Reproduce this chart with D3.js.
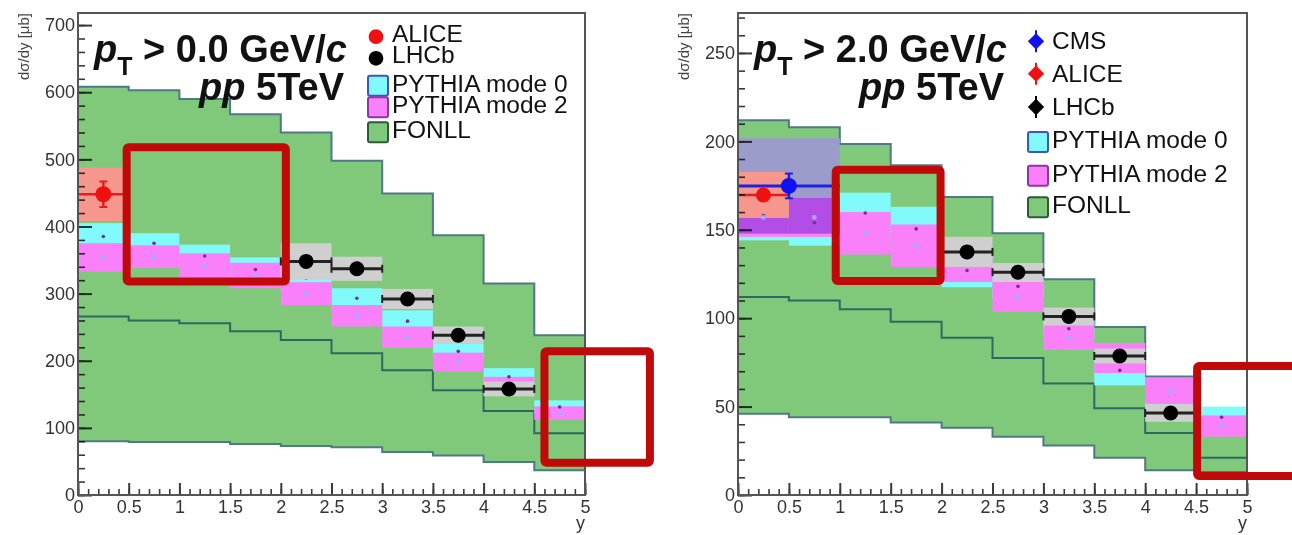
<!DOCTYPE html>
<html>
<head>
<meta charset="utf-8">
<script src="https://cdn.jsdelivr.net/npm/d3@7"></script>
<style>
  body { margin: 0; background: #fff; }
  text { font-family: "Liberation Sans", Arial, Helvetica, sans-serif; white-space: pre; }
</style>
</head>
<body>
<div id="container"></div>
<script>
// rapidity bins (lower edges), width 0.5
const binLo = [0, 0.5, 1, 1.5, 2, 2.5, 3, 3.5, 4, 4.5];
const binW = 0.5;
const xTickLabels = ['0', '0.5', '1', '1.5', '2', '2.5', '3', '3.5', '4', '4.5', '5'];

// ---- pT > 0.0 GeV/c ----
const fonllHiA = [608, 603, 590, 567, 540, 498, 449, 387, 315, 238];
const fonllMidA = [266, 260, 256, 244, 231, 211, 186, 156, 125, 92];
const fonllLoA = [80, 79, 79, 76, 73, 71, 64, 59, 49, 37];
const py0MidA = [385, 375, 356, 336, 323, 293, 259, 214, 176, 131];
const py0ErrA = [20, 15, 17, 18, 18, 15, 16, 11, 13, 10];
const py2MidA = [354, 355, 342, 327, 300, 267, 235, 198, 163, 122];
const py2ErrA = [21, 17, 18, 19, 17, 16, 16, 14, 13, 10];
const lhcbBinA = [2, 2.5, 3, 3.5, 4];
const lhcbValA = [348, 337, 292, 238, 158];
const lhcbSystA = [27, 18, 15, 13, 11];
const aliceBinA = [0];
const aliceValA = [448];
const aliceStatA = [19];
const aliceSystA = [40];
const legendA = ['ALICE', 'LHCb', 'PYTHIA mode 0', 'PYTHIA mode 2', 'FONLL'];
const notesA = [
  { x0: 0.48, x1: 2.05, y0: 318, y1: 518 },
  { x0: 4.6, x1: 5.64, y0: 48, y1: 214 }
];

// ---- pT > 2.0 GeV/c ----
const fonllHiB = [212, 208, 198.5, 186.5, 168.5, 148, 122, 95, 67, 42];
const fonllMidB = [112, 110, 105, 98, 89, 77.5, 63, 49, 35, 21];
const fonllLoB = [46, 44, 44, 41, 38, 33, 28, 21, 14, 13];
const py0MidB = [158, 154, 159.5, 150.5, 127, 118, 94, 70.5, 47.5, 44];
const py0ErrB = [14, 13, 11.5, 12.5, 9.5, 7, 6, 8.5, 5, 6];
const py2MidB = [157, 157, 148, 141, 130, 112, 89, 77.5, 59, 39];
const py2ErrB = [11, 11, 12, 12, 9.5, 8.5, 7, 8.5, 7.5, 6];
const lhcbBinB = [2, 2.5, 3, 3.5, 4];
const lhcbValB = [137.5, 126, 101, 78.6, 46.4];
const lhcbSystB = [8.5, 5.2, 5, 4.2, 5];
const aliceBinB = [0];
const aliceValB = [169.7];
const aliceStatB = [3];
const aliceSystB = [13];
const cmsLoB = [0];
const cmsHiB = [1];
const cmsValB = [174.8];
const cmsStatB = [7];
const cmsSystB = [27];
const legendB = ['CMS', 'ALICE', 'LHCb', 'PYTHIA mode 0', 'PYTHIA mode 2', 'FONLL'];
const notesB = [
  { x0: 0.96, x1: 1.99, y0: 121, y1: 184 },
  { x0: 4.51, x1: 5.6, y0: 10.7, y1: 73 }
];

const C = {
  green: '#80c87a', fonllEdge: '#4f7888', fonllMid: '#2f6862',
  cyan: '#80fafa', magenta: '#fa80fa', gray: '#cfcfcf', salmon: '#f5978d',
  lavender: '#9c9ccc', purple: '#b24ee6',
  red: '#f01010', blue: '#1010f0', note: '#c00a0a'
};

const svg = d3.select('#container').append('svg')
  .attr('width', 1292).attr('height', 535)
  .style('background', '#fff');

const panels = [
  { left: 78, right: 585, yMax: 718, yStep: 100, cut: '0.0',
    fHi: fonllHiA, fMid: fonllMidA, fLo: fonllLoA,
    p0: py0MidA, p0e: py0ErrA, p2: py2MidA, p2e: py2ErrA,
    lBin: lhcbBinA, lVal: lhcbValA, lSys: lhcbSystA,
    aBin: aliceBinA, aVal: aliceValA, aStat: aliceStatA, aSys: aliceSystA,
    cLo: [], cHi: [], cVal: [], cStat: [], cSys: [],
    legend: legendA, legendBase: [41.7, 63.3, 91.7, 113.3, 138.3], notes: notesA, round: true },
  { left: 738, right: 1247, yMax: 272.6, yStep: 50, cut: '2.0',
    fHi: fonllHiB, fMid: fonllMidB, fLo: fonllLoB,
    p0: py0MidB, p0e: py0ErrB, p2: py2MidB, p2e: py2ErrB,
    lBin: lhcbBinB, lVal: lhcbValB, lSys: lhcbSystB,
    aBin: aliceBinB, aVal: aliceValB, aStat: aliceStatB, aSys: aliceSystB,
    cLo: cmsLoB, cHi: cmsHiB, cVal: cmsValB, cStat: cmsStatB, cSys: cmsSystB,
    legend: legendB, legendBase: [49.3, 81.7, 115, 148, 181.7, 213.3], notes: notesB, round: false }
];

panels.forEach(p => {
  const x = d3.scaleLinear().domain([0, 5]).range([p.left, p.right]);
  const y = d3.scaleLinear().domain([0, p.yMax]).range([495, 13]);
  const g = svg.append('g');

  const band = (sel, cls, mid, err, fill) => sel.selectAll('.' + cls).data(binLo).join('rect')
    .attr('class', cls)
    .attr('x', d => x(d)).attr('width', d => x(d + binW) - x(d))
    .attr('y', (d, i) => y(mid[i] + err[i]))
    .attr('height', (d, i) => y(mid[i] - err[i]) - y(mid[i] + err[i]))
    .attr('fill', fill);

  // FONLL band
  const steps = binLo.map((lo, i) => ({ x: lo, hi: p.fHi[i], mid: p.fMid[i], lo: p.fLo[i] }));
  steps.push(Object.assign({}, steps[steps.length - 1], { x: 5 }));
  g.append('path').datum(steps)
    .attr('d', d3.area().curve(d3.curveStepAfter).x(d => x(d.x)).y0(d => y(d.lo)).y1(d => y(d.hi)))
    .attr('fill', C.green);
  ['hi', 'lo', 'mid'].forEach(k => {
    g.append('path').datum(steps)
      .attr('d', d3.line().curve(d3.curveStepAfter).x(d => x(d.x)).y(d => y(d[k])))
      .attr('fill', 'none')
      .attr('stroke', k === 'mid' ? C.fonllMid : C.fonllEdge)
      .attr('stroke-width', 2);
  });

  // CMS systematic box (under the PYTHIA bands)
  p.cVal.forEach((v, i) => {
    g.append('rect')
      .attr('x', x(p.cLo[i])).attr('width', x(p.cHi[i]) - x(p.cLo[i]))
      .attr('y', y(v + p.cSys[i])).attr('height', y(v - p.cSys[i]) - y(v + p.cSys[i]))
      .attr('fill', C.lavender);
  });

  band(g, 'py0', p.p0, p.p0e, C.cyan);
  band(g, 'py2', p.p2, p.p2e, C.magenta);

  // overlap of CMS box with PYTHIA mode 2
  p.cVal.forEach((v, i) => {
    binLo.forEach((lo, j) => {
      const xa = Math.max(lo, p.cLo[i]), xb = Math.min(lo + binW, p.cHi[i]);
      const top = Math.min(v + p.cSys[i], p.p2[j] + p.p2e[j]);
      const bot = Math.max(v - p.cSys[i], p.p2[j] - p.p2e[j]);
      if (xb > xa && top > bot) {
        g.append('rect').attr('x', x(xa)).attr('width', x(xb) - x(xa))
          .attr('y', y(top)).attr('height', y(bot) - y(top)).attr('fill', C.purple);
      }
    });
  });

  // ALICE systematic box
  p.aVal.forEach((v, i) => {
    g.append('rect')
      .attr('x', x(p.aBin[i])).attr('width', x(p.aBin[i] + binW) - x(p.aBin[i]))
      .attr('y', y(v + p.aSys[i])).attr('height', y(v - p.aSys[i]) - y(v + p.aSys[i]))
      .attr('fill', C.salmon);
  });

  // PYTHIA central values
  g.selectAll('.p0dot').data(binLo).join('circle')
    .attr('cx', d => x(d + binW / 2)).attr('cy', (d, i) => y(p.p0[i]))
    .attr('r', 1.8).attr('fill', '#7a2a9a');
  g.selectAll('.p2dot').data(binLo).join('circle')
    .attr('cx', d => x(d + binW / 2)).attr('cy', (d, i) => y(p.p2[i]))
    .attr('r', 2.4).attr('fill', '#a8a8ff');

  // LHCb systematic boxes
  g.selectAll('.lbox').data(p.lVal).join('rect')
    .attr('x', (d, i) => x(p.lBin[i])).attr('width', (d, i) => x(p.lBin[i] + binW) - x(p.lBin[i]))
    .attr('y', (d, i) => y(d + p.lSys[i])).attr('height', (d, i) => y(d - p.lSys[i]) - y(d + p.lSys[i]))
    .attr('fill', C.gray);

  // LHCb points
  p.lVal.forEach((v, i) => {
    const x0 = x(p.lBin[i]), x1 = x(p.lBin[i] + binW), yy = y(v);
    g.append('line').attr('x1', x0).attr('x2', x1).attr('y1', yy).attr('y2', yy)
      .attr('stroke', '#222').attr('stroke-width', 3);
    [x0, x1].forEach(xx => g.append('line').attr('x1', xx).attr('x2', xx)
      .attr('y1', yy - 4).attr('y2', yy + 4).attr('stroke', '#222').attr('stroke-width', 2));
    g.append('circle').attr('cx', x(p.lBin[i] + binW / 2)).attr('cy', yy).attr('r', 7.5).attr('fill', '#000');
  });

  // ALICE points
  p.aVal.forEach((v, i) => {
    const xc = x(p.aBin[i] + binW / 2), yy = y(v);
    g.append('line').attr('x1', x(p.aBin[i])).attr('x2', x(p.aBin[i] + binW)).attr('y1', yy).attr('y2', yy)
      .attr('stroke', '#e02020').attr('stroke-width', 2.5);
    g.append('line').attr('x1', xc).attr('x2', xc).attr('y1', y(v + p.aStat[i])).attr('y2', y(v - p.aStat[i]))
      .attr('stroke', '#e02020').attr('stroke-width', 2.5);
    [v + p.aStat[i], v - p.aStat[i]].forEach(e => g.append('line')
      .attr('x1', xc - 4).attr('x2', xc + 4).attr('y1', y(e)).attr('y2', y(e))
      .attr('stroke', '#e02020').attr('stroke-width', 2));
    g.append('circle').attr('cx', xc).attr('cy', yy).attr('r', p.round ? 8 : 7.5).attr('fill', C.red);
  });

  // CMS points
  p.cVal.forEach((v, i) => {
    const xc = x((p.cLo[i] + p.cHi[i]) / 2), yy = y(v);
    g.append('line').attr('x1', x(p.cLo[i])).attr('x2', x(p.cHi[i])).attr('y1', yy).attr('y2', yy)
      .attr('stroke', '#2020e0').attr('stroke-width', 3);
    g.append('line').attr('x1', xc).attr('x2', xc).attr('y1', y(v + p.cStat[i])).attr('y2', y(v - p.cStat[i]))
      .attr('stroke', '#2020e0').attr('stroke-width', 2.5);
    [v + p.cStat[i], v - p.cStat[i]].forEach(e => g.append('line')
      .attr('x1', xc - 4).attr('x2', xc + 4).attr('y1', y(e)).attr('y2', y(e))
      .attr('stroke', '#2020e0').attr('stroke-width', 2));
    g.append('circle').attr('cx', xc).attr('cy', yy).attr('r', 8).attr('fill', C.blue);
  });

  // ticks, blended over the fills
  const yMajor = d3.range(0, p.yMax + 1e-6, p.yStep);
  const yMinor = d3.range(0, p.yMax + 1e-6, p.yStep / 5);
  const xMajor = d3.range(0, 5.001, 0.5);
  const xMinor = d3.range(0, 5.001, 0.1);
  const tk = g.append('g').style('mix-blend-mode', 'multiply');
  const tickAxis = (axis, tr, w) => tk.append('g').attr('transform', tr).call(axis)
    .call(a => { a.select('.domain').remove(); a.selectAll('line').attr('stroke', '#3a3a3a').attr('stroke-width', w); });
  tickAxis(d3.axisLeft(y).tickValues(yMinor).tickSize(-7).tickFormat(''), `translate(${p.left},0)`, 1.6);
  tickAxis(d3.axisLeft(y).tickValues(yMajor).tickSize(-14).tickFormat(''), `translate(${p.left},0)`, 2);
  tickAxis(d3.axisBottom(x).tickValues(xMinor).tickSize(-6).tickFormat(''), 'translate(0,495)', 1.6);
  tickAxis(d3.axisBottom(x).tickValues(xMajor).tickSize(-12).tickFormat(''), 'translate(0,495)', 2);

  // frame
  g.append('rect').attr('x', p.left).attr('y', 13)
    .attr('width', p.right - p.left).attr('height', 482)
    .attr('fill', 'none').attr('stroke', '#555').attr('stroke-width', 2);

  // tick labels
  const labelAxis = (axis, tr) => g.append('g').attr('transform', tr).call(axis)
    .call(a => {
      a.select('.domain').remove();
      a.selectAll('line').remove();
      a.selectAll('text').attr('font-size', 18).attr('fill', '#333')
        .attr('font-family', '"Liberation Sans", Arial, sans-serif');
    });
  labelAxis(d3.axisLeft(y).tickValues(yMajor).tickSize(0).tickPadding(3), `translate(${p.left},0)`);
  labelAxis(d3.axisBottom(x).tickValues(xMajor).tickSize(0).tickPadding(5)
    .tickFormat((d, i) => xTickLabels[i]), 'translate(0,495)');

  // axis titles
  g.append('text').attr('transform', `translate(${p.left - 49},13) rotate(-90)`)
    .attr('text-anchor', 'end').attr('font-size', 15).attr('fill', '#444')
    .text('dσ/dy [μb]');
  g.append('text').attr('x', p.right).attr('y', 529).attr('text-anchor', 'end')
    .attr('font-size', 18).attr('fill', '#333').text('y');

  // title
  const t1 = g.append('text').attr('x', p.left + 269).attr('y', 62)
    .attr('text-anchor', 'end').attr('font-size', 38).attr('font-weight', 'bold').attr('fill', '#111');
  t1.append('tspan').attr('font-style', 'italic').text('p');
  t1.append('tspan').attr('font-size', 25).attr('dy', 13).text('T');
  t1.append('tspan').attr('dy', -13).text(` > ${p.cut} GeV/`);
  t1.append('tspan').attr('font-style', 'italic').text('c');
  const t2 = g.append('text').attr('x', p.left + 266).attr('y', 100)
    .attr('text-anchor', 'end').attr('font-size', 38).attr('font-weight', 'bold').attr('fill', '#111');
  t2.append('tspan').attr('font-style', 'italic').text('pp');
  t2.append('tspan').text(' 5TeV');

  // legend
  const tx = p.left + 314;
  const markerColor = { CMS: C.blue, ALICE: C.red, LHCb: '#000' };
  const boxStyle = {
    'PYTHIA mode 0': [C.cyan, '#3a55c8'],
    'PYTHIA mode 2': [C.magenta, '#8a35a8'],
    'FONLL': [C.green, '#2e5a3a']
  };
  p.legend.forEach((name, i) => {
    const base = p.legendBase[i];
    if (markerColor[name]) {
      const cy = base - (p.round ? 5 : 8);
      if (!p.round) {
        g.append('line').attr('x1', tx - 16).attr('x2', tx - 16).attr('y1', cy - 11).attr('y2', cy + 11)
          .attr('stroke', markerColor[name]).attr('stroke-width', 2);
      }
      g.append('path')
        .attr('transform', `translate(${tx - 16},${cy})`)
        .attr('d', d3.symbol().type(p.round ? d3.symbolCircle : d3.symbolDiamond2).size(p.round ? 170 : 170)())
        .attr('fill', markerColor[name]);
    } else {
      g.append('rect').attr('x', tx - 24).attr('y', base - 16).attr('width', 20).attr('height', 20)
        .attr('rx', 2).attr('fill', boxStyle[name][0])
        .attr('stroke', boxStyle[name][1]).attr('stroke-width', 2);
    }
    g.append('text').attr('x', tx).attr('y', base).attr('font-size', 24.5).attr('fill', '#111').text(name);
  });

  // highlight boxes
  g.selectAll('.note').data(p.notes).join('rect')
    .attr('x', d => x(d.x0)).attr('y', d => y(d.y1))
    .attr('width', d => x(d.x1) - x(d.x0)).attr('height', d => y(d.y0) - y(d.y1))
    .attr('rx', 2).attr('fill', 'none').attr('stroke', C.note).attr('stroke-width', 8);
});
</script>
</body>
</html>
